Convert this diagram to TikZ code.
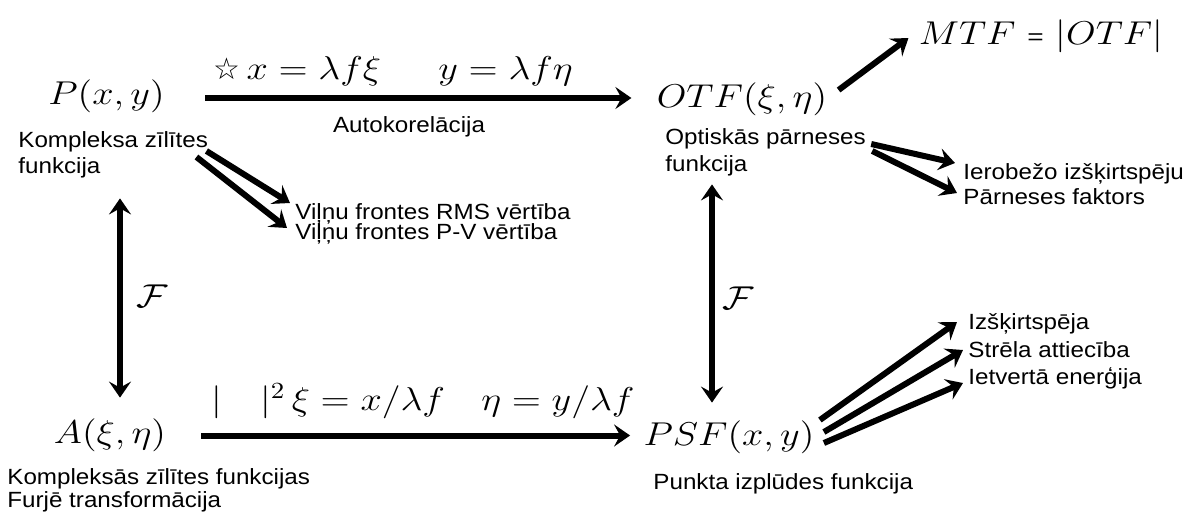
\RequirePackage{fix-cm}
\documentclass[tikz,border=0pt]{standalone}
\usepackage{amsmath}
\usepackage{graphicx}
\usepackage{fontspec}
\setmainfont{Liberation Sans}[FakeStretch=1.1]
\newfontfamily\symfont{DejaVu Sans}
\usetikzlibrary{arrows.meta}

\newcommand{\mx}[1]{\scalebox{1.16}[1]{#1}}

\tikzset{
  mth/.style={font=\fontsize{16.5}{20}\selectfont, inner sep=0pt},
  lbl/.style={font=\fontsize{11}{13}\selectfont, inner sep=0pt, align=left},
  arr/.style={line width=3pt, -{Stealth[length=8pt,width=11pt,inset=3pt]}},
  darr/.style={line width=3pt, {Stealth[length=8pt,width=11pt,inset=3pt]}-{Stealth[length=8pt,width=11pt,inset=3pt]}}
}

\begin{document}
\begin{tikzpicture}[x=0.5pt,y=-0.5pt]
\useasboundingbox (0,0) rectangle (1185,514);
% main quantities
\node[mth] (P) at (106.5,96.5) {\mx{$P(x,y)$}};
\node[mth] (OTF) at (742,99.5) {\mx{$OTF(\xi,\eta)$}};
\node[mth] (A) at (110,435.5) {\mx{$A(\xi,\eta)$}};
\node[mth] (PSF) at (729,437.5) {\mx{$PSF(x,y)$}};
\node[mth] (MTF) at (1041,36) {\mx{$MTF$ {\fontsize{11}{11}\selectfont =} $\lvert OTF\rvert$}};
% descriptions
\node[lbl, anchor=north west] (Pt) at (18,131) {Kompleksa zīlītes\\funkcija};
\node[lbl, anchor=north west, font=\fontsize{11}{13.5}\selectfont] (OTFt) at (665,128) {Optiskās pārneses\\funkcija};
\node[lbl, anchor=north west, font=\fontsize{11}{11.75}\selectfont] (At) at (7,468) {Kompleksās zīlītes funkcijas\\Furjē transformācija};
\node[lbl, anchor=base west] (PSFt) at (653,489) {Punkta izplūdes funkcija};
\node[lbl, anchor=base west] (Vil1) at (295,219) {Viļņu frontes RMS vērtība};
\node[lbl, anchor=base west] (Vil2) at (295,239) {Viļņu frontes P-V vērtība};
\node[lbl, anchor=base west] (Ier) at (963,179) {Ierobežo izšķirtspēju};
\node[lbl, anchor=base west] (Parn) at (963,204) {Pārneses faktors};
\node[lbl, anchor=base west] (Izs) at (968,329) {Izšķirtspēja};
\node[lbl, anchor=base west] (Str) at (968,357) {Strēla attiecība};
\node[lbl, anchor=base west] (Iet) at (968,384) {Ietvertā enerģija};
% arrow labels
\node[mth, anchor=base west] (tl) at (213,79) {{\symfont\fontsize{15}{15}\selectfont☆}\mx{\,$x=\lambda f\xi\hspace{1.5em}y=\lambda f\eta$}};
\node[lbl, anchor=base] (tb) at (409,132) {Autokorelācija};
\node[mth, anchor=base west] (bl) at (211,410) {\mx{$|\quad|^2\,\xi=x/\lambda f\hspace{0.95em}\eta=y/\lambda f$}};
\node[mth] (FL) at (152,296) {\mx{$\mathcal{F}$}};
\node[mth] (FR) at (738,298) {\mx{$\mathcal{F}$}};
% connectors
\draw[arr, shorten <=20pt, shorten >=12.5pt] ([yshift=-0.75pt]P.east) -- ([yshift=-0.75pt]P.east -| OTF.west);
\draw[arr, shorten <=17.5pt, shorten >=6.5pt] (A.east) -- (A.east -| PSF.west);
\draw[darr, shorten <=42.5pt, shorten >=10.5pt] ([xshift=6.75pt]P.south) -- ([xshift=6.75pt]P.south |- A.north);
\draw[darr, shorten <=34pt, shorten >=9pt] ([xshift=-15pt]OTF.south) -- ([xshift=-15pt]OTF.south |- PSF.north);
\draw[arr] ([shift={(11,-9.5)}]OTF.east) -- ([shift={(-10,2)}]MTF.west);
\draw[arr] ([shift={(-2,20)}]Pt.north east) -- ([shift={(-5,-16)}]Vil1.base west);
\draw[arr] ([shift={(-12,26)}]Pt.north east) -- ([shift={(-8,-11)}]Vil2.base west);
\draw[arr] ([shift={(5,16)}]OTFt.north east) -- ([shift={(-8,-16)}]Ier.base west);
\draw[arr] ([shift={(6,23)}]OTFt.north east) -- ([shift={(-6,-11)}]Parn.base west);
\draw[arr] ([shift={(5,-17.5)}]PSF.east) -- ([shift={(-11,-7)}]Izs.base west);
\draw[arr] ([shift={(9,-5.5)}]PSF.east) -- ([shift={(-5,-7)}]Str.base west);
\draw[arr] ([shift={(9,5.5)}]PSF.east) -- ([shift={(-5,-1)}]Iet.base west);
\end{tikzpicture}
\end{document}
